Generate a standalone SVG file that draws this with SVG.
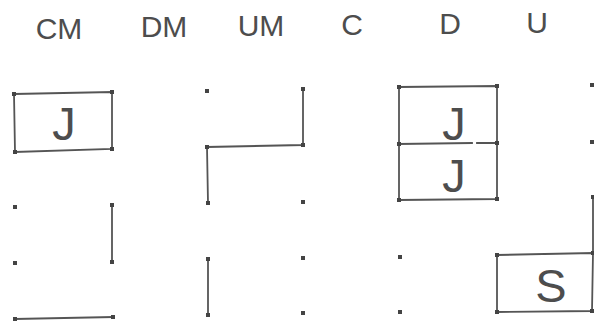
<svg xmlns="http://www.w3.org/2000/svg" width="594" height="324" viewBox="0 0 594 324">
  <style>
    .hdr { font-family: "Liberation Sans", Arial, sans-serif; font-size: 30px; fill: #4d4d4d; text-anchor: middle; }
    .lbl { font-family: "Liberation Sans", Arial, sans-serif; font-size: 47px; fill: #4d4d4d; text-anchor: middle; }
    .edge { fill: none; stroke: #555; stroke-width: 1.8; stroke-linecap: square; }
    .dot { fill: #444; }
  </style>
  <defs>
    <rect id="pt" x="-2" y="-2" width="4" height="4" class="dot"/>
  </defs>
  <rect width="594" height="324" fill="#fff"/>

  <!-- column headings -->
  <g id="headings">
    <text class="hdr" x="59" y="39">CM</text>
    <text class="hdr" x="164" y="37">DM</text>
    <text class="hdr" x="261" y="36">UM</text>
    <text class="hdr" x="352" y="35">C</text>
    <text class="hdr" x="450" y="34">D</text>
    <text class="hdr" x="537" y="33">U</text>
  </g>

  <!-- boxed cells -->
  <g id="cm-j">
    <path class="edge" d="M14,94 L112,92 L112,149 L15,152 Z"/>
    <text class="lbl" x="64" y="140">J</text>
  </g>
  <g id="d-j-upper">
    <path class="edge" d="M399,144 L399,87 L497,86 L497,143 L477,143 M472,143 L399,144"/>
    <text class="lbl" x="454" y="140">J</text>
  </g>
  <g id="d-j-lower">
    <path class="edge" d="M399,144 L399,200 L497,199 L497,143"/>
    <text class="lbl" x="454" y="192">J</text>
  </g>
  <g id="u-s">
    <path class="edge" d="M497,255 L593,253 L592,311 L497,312 Z"/>
    <text class="lbl" x="551" y="302">S</text>
  </g>

  <!-- connecting segments -->
  <g id="connectors">
    <path class="edge" d="M112,205 L112,262"/>
    <path class="edge" d="M15,319 L113,317"/>
    <path class="edge" d="M303,89 L303,145 L207,147 L208,203"/>
    <path class="edge" d="M208,259 L208,315"/>
    <path class="edge" d="M593,197 L593,253"/>
  </g>

  <!-- grid points -->
  <g id="grid">
    <use href="#pt" x="14" y="94"/><use href="#pt" x="112" y="92"/>
    <use href="#pt" x="15" y="152"/><use href="#pt" x="112" y="149"/>
    <use href="#pt" x="15" y="207"/><use href="#pt" x="112" y="205"/>
    <use href="#pt" x="15" y="263"/><use href="#pt" x="112" y="262"/>
    <use href="#pt" x="15" y="319"/><use href="#pt" x="113" y="317"/>

    <use href="#pt" x="207" y="91"/><use href="#pt" x="207" y="147"/>
    <use href="#pt" x="208" y="203"/><use href="#pt" x="208" y="259"/>
    <use href="#pt" x="208" y="315"/>

    <use href="#pt" x="303" y="89"/><use href="#pt" x="303" y="145"/>
    <use href="#pt" x="303" y="202"/><use href="#pt" x="303" y="258"/>
    <use href="#pt" x="303" y="313"/>

    <use href="#pt" x="399" y="87"/><use href="#pt" x="399" y="144"/>
    <use href="#pt" x="399" y="200"/><use href="#pt" x="400" y="257"/>
    <use href="#pt" x="400" y="312"/>

    <use href="#pt" x="497" y="86"/><use href="#pt" x="497" y="143"/>
    <use href="#pt" x="497" y="199"/><use href="#pt" x="497" y="255"/>
    <use href="#pt" x="497" y="312"/>

    <use href="#pt" x="592" y="85"/><use href="#pt" x="592" y="142"/>
    <use href="#pt" x="593" y="197"/><use href="#pt" x="593" y="253"/>
    <use href="#pt" x="592" y="311"/>
  </g>
</svg>
